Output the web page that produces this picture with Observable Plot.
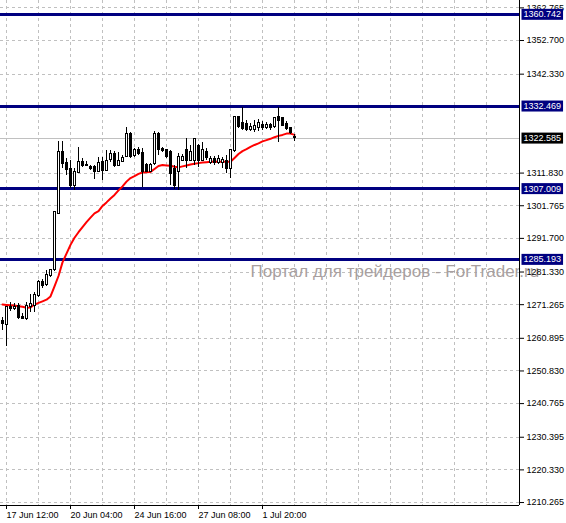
<!DOCTYPE html>
<html><head><meta charset="utf-8">
<script src="https://cdn.jsdelivr.net/npm/d3@7"></script>
<script src="https://cdn.jsdelivr.net/npm/@observablehq/plot@0.6"></script>
<style>html,body{margin:0;padding:0;background:#fff;overflow:hidden}svg{display:block}</style>
</head><body><div id="chart"></div>
<script>
const opens = [1266.2,1265.1,1270.5,1270.0,1271.0,1267.6,1266.9,1270.5,1271.0,1273.8,
1278.2,1277.2,1280.0,1281.8,1299.3,1318.2,1314.8,1313.2,1308.0,1311.8,
1315.4,1314.4,1313.6,1313.6,1312.1,1315.4,1312.6,1315.9,1317.8,1314.0,
1315.4,1316.7,1323.9,1317.0,1319.0,1318.1,1314.2,1312.3,1314.7,1323.9,
1319.3,1318.8,1318.2,1313.2,1312.1,1315.7,1318.8,1315.7,1315.7,1320.3,
1315.7,1318.2,1314.8,1316.3,1314.8,1314.8,1315.7,1313.2,1318.5,1329.0,
1327.4,1327.1,1325.0,1325.0,1325.6,1326.8,1325.6,1326.8,1325.9,1329.0,
1328.7,1327.1,1325.6,1323.1];
const highs = [1267.3,1270.7,1271.9,1271.7,1271.6,1268.4,1272.0,1274.4,1274.9,1278.7,
1279.0,1281.8,1282.1,1300.0,1321.6,1321.7,1316.3,1315.7,1313.2,1319.8,
1316.2,1315.4,1314.2,1314.2,1316.7,1316.7,1318.8,1318.8,1318.5,1318.2,
1317.3,1326.0,1324.3,1319.3,1319.7,1319.3,1314.8,1314.8,1324.6,1324.3,
1319.7,1319.1,1318.8,1314.2,1317.8,1317.5,1322.4,1320.3,1322.5,1320.6,
1321.3,1319.4,1316.9,1316.9,1317.2,1316.6,1317.2,1319.1,1329.3,1329.3,
1332.2,1328.0,1327.1,1328.0,1328.3,1327.7,1327.4,1327.1,1329.0,1332.2,
1329.0,1327.7,1325.9,1323.7];
const lows = [1263.3,1258.4,1269.2,1269.5,1266.7,1266.7,1266.4,1268.8,1268.8,1273.6,
1276.2,1276.9,1279.6,1281.5,1299.1,1313.2,1311.1,1307.0,1306.5,1311.7,
1313.6,1313.9,1312.6,1309.9,1312.0,1309.5,1312.4,1315.2,1313.6,1313.9,
1315.1,1316.5,1316.3,1316.7,1317.3,1307.5,1312.0,1312.0,1314.2,1317.3,
1318.2,1316.3,1308.0,1306.8,1306.5,1315.4,1313.2,1315.4,1314.2,1313.6,
1315.4,1315.7,1314.5,1314.2,1314.5,1313.2,1311.7,1310.2,1318.2,1325.6,
1325.0,1324.6,1324.6,1324.3,1324.6,1325.0,1325.3,1325.0,1325.6,1321.3,
1326.2,1325.0,1323.7,1321.7];
const closes = [1265.4,1270.5,1269.8,1270.5,1267.2,1266.9,1271.0,1271.5,1274.1,1278.4,
1276.9,1280.3,1281.9,1299.8,1318.3,1314.5,1312.9,1308.0,1312.1,1315.4,
1313.9,1314.0,1313.2,1312.1,1315.0,1312.4,1315.7,1317.8,1314.0,1315.7,
1316.5,1323.9,1316.9,1319.0,1317.8,1312.3,1312.3,1314.2,1323.9,1318.8,
1318.5,1316.9,1311.7,1308.0,1316.7,1316.7,1315.7,1318.3,1322.4,1315.7,
1318.8,1316.6,1316.3,1314.8,1316.2,1316.0,1313.2,1318.8,1329.0,1326.0,
1325.3,1325.0,1326.0,1326.5,1327.4,1325.6,1326.7,1325.6,1328.7,1328.0,
1326.5,1325.4,1324.3,1322.585];
const maValues = [1271.3,1271.2,1271.1,1271.0,1270.8,1270.6,1270.3,1270.4,1271.3,1271.8,
1272.3,1272.8,1273.8,1276.9,1280.1,1284.3,1287.0,1289.7,1291.9,1293.6,
1295.2,1296.7,1298.1,1299.4,1300.1,1301.7,1302.8,1304.0,1305.1,1306.5,
1307.7,1309.2,1310.3,1310.9,1311.6,1312.0,1312.1,1312.2,1313.1,1314.0,
1314.3,1314.2,1314.1,1313.8,1313.6,1313.9,1314.2,1314.5,1314.7,1314.9,
1315.1,1315.2,1315.3,1315.4,1315.3,1315.3,1315.3,1315.3,1316.5,1317.7,
1318.6,1319.2,1319.9,1320.5,1321.0,1321.6,1322.0,1322.4,1322.9,1323.3,
1323.6,1324.0,1324.0,1323.6];

const yTicks = [1210.265,1220.330,1230.395,1240.765,1250.830,1260.895,1271.265,1281.330,
1291.700,1301.765,1311.830,1342.330,1352.700,1362.765];
const xTickBars = [1,17,33,49,65];
const xTickLabels = ["17 Jun 12:00","20 Jun 04:00","24 Jun 16:00","27 Jun 08:00","1 Jul 20:00"];
const gridXBars = [1,9,17,25,33,41,49,57,65,73,81,89,97,105,113,121];
const levels = [1360.742,1332.469,1307.009,1285.193];
const currentPrice = 1322.585;
const watermark = "Портал для трейдеров - ForTrader.ru";

const yDomain = [1209.35, 1365.04];
const xDomain = [-0.5, 129.25];
const fmt = d3.format(".3f");

const bars = opens.map((o, i) => ({i, open: o, high: highs[i], low: lows[i], close: closes[i]}));
const ma = maValues.map((v, i) => ({i, v}));

const chart = Plot.plot({
  width: 566, height: 523,
  marginLeft: 0, marginRight: 47, marginTop: 0, marginBottom: 18,
  style: {background: "#fff", fontFamily: "'Liberation Sans', Arial, sans-serif", fontSize: "9px", color: "#000"},
  x: {type: "linear", domain: xDomain, label: null},
  y: {type: "linear", domain: yDomain, label: null},
  marks: [
    Plot.ruleY(yTicks, {stroke: "#c0c0c0", strokeDasharray: "3,3", shapeRendering: "crispEdges"}),
    Plot.ruleX(gridXBars, {stroke: "#c0c0c0", strokeDasharray: "3,3", shapeRendering: "crispEdges"}),
    Plot.text([watermark], {frameAnchor: "left", dx: 250, dy: 19, textAnchor: "start", fontSize: 17, fill: "#a89f9f"}),
    Plot.ruleY([currentPrice], {stroke: "#c0c0c0", shapeRendering: "crispEdges"}),
    Plot.ruleY(levels, {stroke: "#000080", strokeWidth: 3, shapeRendering: "crispEdges"}),
    Plot.line(ma, {x: "i", y: "v", stroke: "#ff0000", strokeWidth: 2}),
    Plot.ruleX(bars, {x: "i", y1: "low", y2: "high", stroke: "#000", shapeRendering: "crispEdges"}),
    Plot.rect(bars, {x1: d => d.i - 0.25, x2: d => d.i + 0.25, y1: "open", y2: "close",
      fill: d => d.close >= d.open ? "white" : "black", stroke: "black", shapeRendering: "crispEdges"}),
    Plot.ruleY([yDomain[0]], {stroke: "#000", shapeRendering: "crispEdges"}),
    Plot.ruleX([xDomain[1]], {stroke: "#000", shapeRendering: "crispEdges"}),
    Plot.axisY(yTicks, {anchor: "right", tickSize: 4, tickPadding: 3, tickFormat: fmt, label: null}),
    Plot.axisX(xTickBars, {anchor: "bottom", tickSize: 4, tickPadding: 2, textAnchor: "start", label: null,
      tickFormat: d => xTickLabels[xTickBars.indexOf(d)]}),
    Plot.text(levels, {y: d => d, text: d => fmt(d), frameAnchor: "right", textAnchor: "start", dx: 4, fill: "#fff"}),
    Plot.text([currentPrice], {y: d => d, text: d => fmt(d), frameAnchor: "right", textAnchor: "start", dx: 4, fill: "#fff"})
  ]
});
document.getElementById("chart").append(chart);

function boxes(values, color) {
  const wanted = new Set(values.map(fmt));
  d3.select(chart).selectAll("text").filter(function () {
    return wanted.has(this.textContent) && getComputedStyle(this).fill === "rgb(255, 255, 255)";
  }).each(function () {
    const b = this.getBBox();
    const t = this;
    const r = d3.select(this.parentNode).insert("rect", () => t)
      .attr("x", b.x - 2).attr("y", b.y - 0.5)
      .attr("width", b.width + 4).attr("height", b.height + 1)
      .attr("fill", color);
    const tr = t.getAttribute("transform");
    if (tr) r.attr("transform", tr);
    if (t.getAttribute("x")) r.attr("x", +t.getAttribute("x") + b.x - +t.getAttribute("x") - 2);
  });
}
boxes(levels, "#000080");
boxes([currentPrice], "#000000");
</script>
</body></html>
